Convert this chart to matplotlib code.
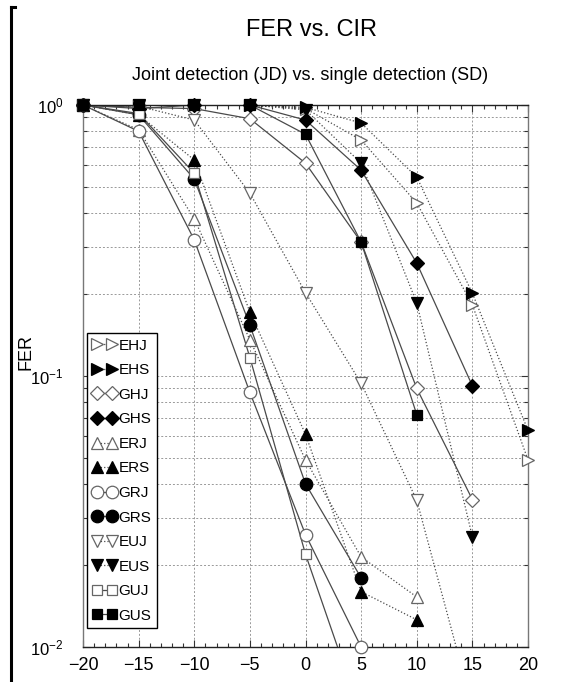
import numpy as np
import matplotlib
matplotlib.use("Agg")
import matplotlib.pyplot as plt
from matplotlib.lines import Line2D
from matplotlib.ticker import MultipleLocator, LogLocator, NullFormatter

nan = np.nan

# CIR in dB
cir = [-20, -15, -10, -5, 0, 5, 10, 15, 20]

# FER per scheme
fer_ehj = [1.0, 1.0, 1.0, 1.0, 0.97, 0.743, 0.435, 0.183, 0.049]
fer_ehs = [1.0, 1.0, 1.0, 1.0, 0.98, 0.858, 0.542, 0.202, 0.063]
fer_ghj = [1.0, 0.98, 0.97, 0.89, 0.61, 0.312, 0.090, 0.035, nan]
fer_ghs = [1.0, 0.97, 1.0, 1.0, 0.88, 0.575, 0.261, 0.092, nan]
fer_erj = [1.0, 0.81, 0.38, 0.136, 0.049, 0.0215, 0.0153, nan, nan]
fer_ers = [1.0, 0.92, 0.627, 0.172, 0.061, 0.016, 0.0126, nan, nan]
fer_grj = [1.0, 0.80, 0.318, 0.087, 0.026, 0.010, nan, nan, nan]
fer_grs = [1.0, 0.92, 0.533, 0.154, 0.040, 0.018, nan, nan, nan]
fer_euj = [1.0, 0.99, 0.88, 0.473, 0.203, 0.094, 0.0348, 0.006, nan]
fer_eus = [1.0, 1.0, 1.0, 1.0, 0.96, 0.61, 0.186, 0.0255, nan]
fer_guj = [1.0, 0.93, 0.56, 0.117, 0.022, 0.0056, nan, nan, nan]
fer_gus = [1.0, 1.0, 1.0, 1.0, 0.78, 0.312, 0.072, nan, nan]

labels = ["EHJ", "EHS", "GHJ", "GHS", "ERJ", "ERS",
          "GRJ", "GRS", "EUJ", "EUS", "GUJ", "GUS"]
series = [fer_ehj, fer_ehs, fer_ghj, fer_ghs, fer_erj, fer_ers,
          fer_grj, fer_grs, fer_euj, fer_eus, fer_guj, fer_gus]

x_ticks = [-20, -15, -10, -5, 0, 5, 10, 15, 20]
x_ticklabels = ["\u221220", "\u221215", "\u221210", "\u22125", "0", "5", "10", "15", "20"]
y_ticks = [1e-2, 1e-1, 1e0]
y_ticklabels = [r"$10^{-2}$", r"$10^{-1}$", r"$10^{0}$"]

markers = {"H": ">", "R": "^", "U": "v"}

plt.rcParams["font.family"] = ["Liberation Sans", "DejaVu Sans"]
plt.rcParams["mathtext.fontset"] = "custom"
plt.rcParams["mathtext.rm"] = "Liberation Sans"
plt.rcParams["mathtext.it"] = "Liberation Sans:italic"

fig = plt.figure(figsize=(5.87, 6.82), dpi=100)
ax = fig.add_axes([83 / 587, 35 / 682, 445 / 587, 542 / 682])

line_col = "#4a4a4a"
handles = []
for name, vals in zip(labels, series):
    vals = np.array(vals, dtype=float)
    x = np.array(cir, dtype=float)
    ls = ":" if name[0] == "E" else "-"
    if name[0] == "G" and name[1] == "H":
        mk, ms = "D", 7
    elif name[0] == "G" and name[1] == "R":
        mk, ms = "o", 9
    elif name[0] == "G" and name[1] == "U":
        mk, ms = "s", 7.5
    else:
        mk, ms = markers[name[1]], 9
    if name[2] == "J":
        face, edge = "white", "#666666"
    else:
        face, edge = "black", "black"

    ax.plot(x, vals, ls=ls, color=line_col, lw=0.9, zorder=2)
    keep = (vals >= 0.0099) & (vals <= 1.0)
    ax.plot(x[keep], vals[keep], ls="none", marker=mk, ms=ms,
            mfc=face, mec=edge, mew=0.9, clip_on=False, zorder=3)
    handles.append(Line2D([], [], ls=ls, color=line_col, lw=0.9, marker=mk,
                          ms=ms, mfc=face, mec=edge, mew=0.9, label=name))

ax.set_yscale("log")
ax.set_xlim(-20, 20)
ax.set_ylim(1e-2, 1e0)
ax.set_xticks(x_ticks)
ax.set_xticklabels(x_ticklabels)
ax.set_yticks(y_ticks)
ax.set_yticklabels(y_ticklabels)
ax.xaxis.set_minor_locator(MultipleLocator(1))
ax.yaxis.set_minor_locator(LogLocator(base=10, subs=np.arange(2, 10)))
ax.yaxis.set_minor_formatter(NullFormatter())
ax.tick_params(which="both", direction="in", top=True, right=True,
               labelsize=13, width=0.8, color="#333333")
ax.tick_params(which="major", length=5, pad=7)
ax.tick_params(which="minor", length=3)
ax.tick_params(axis="y", which="major", labelsize=12, pad=14)

ax.grid(True, which="major", axis="x", ls=(0, (2, 2)), color="#999999", lw=0.7)
ax.grid(True, which="both", axis="y", ls=(0, (2, 2)), color="#999999", lw=0.7)
ax.set_axisbelow(True)

for side in ["left", "right"]:
    ax.spines[side].set_color("#777777")
for side in ["top", "bottom"]:
    ax.spines[side].set_color("#222222")
for s in ax.spines.values():
    s.set_linewidth(1.0)

ax.set_ylabel("FER", fontsize=13)
ax.yaxis.set_label_coords(-0.108, 0.544)

leg = ax.legend(handles=handles, loc="lower left", bbox_to_anchor=(0.009, 0.035),
                borderaxespad=0, numpoints=2, handlelength=1.6, handletextpad=0.1,
                labelspacing=0.69, borderpad=0.35, fancybox=False, framealpha=1,
                edgecolor="black", prop={"size": 11})
leg.get_frame().set_linewidth(1.0)

fig.text(311 / 587, 1 - 30 / 682, "FER vs. CIR", ha="center", va="center",
         fontsize=17)
fig.text(310 / 587, 1 - 76 / 682, "Joint detection (JD) vs. single detection (SD)",
         ha="center", va="center", fontsize=13)

# black bracket on the left edge of the scan
fig.add_artist(Line2D([11 / 587, 11 / 587], [0, 1 - 7 / 682], transform=fig.transFigure,
                      color="black", lw=2.2))
fig.add_artist(Line2D([11 / 587, 15 / 587], [1 - 7 / 682, 1 - 7 / 682],
                      transform=fig.transFigure, color="black", lw=2.2))

fig.savefig("out.png", dpi=100)
